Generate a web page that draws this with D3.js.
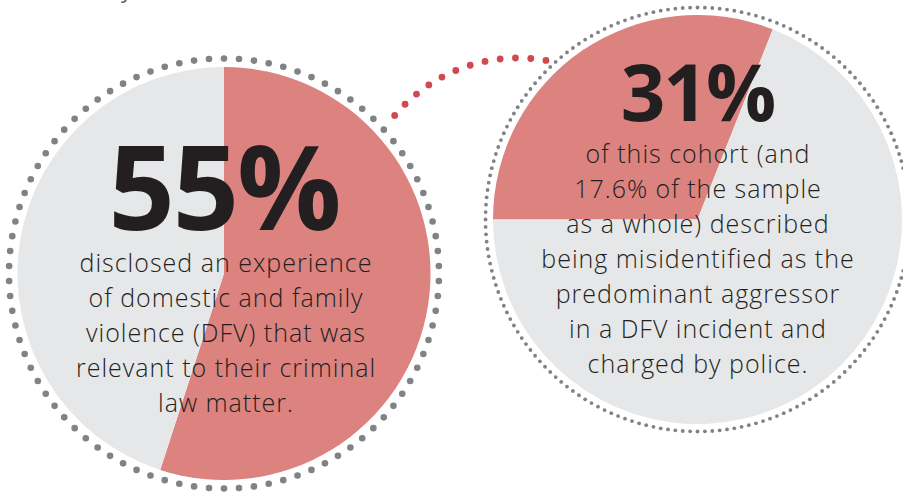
<!DOCTYPE html>
<html>
<head>
<meta charset="utf-8">
<script src="https://cdn.jsdelivr.net/npm/d3@7"></script>
<style>
  body { margin: 0; background: #fff; }
  svg { display: block; }
  text { font-family: "Open Sans", "Noto Sans", sans-serif; fill: #231f20; }
</style>
</head>
<body>
<svg id="chart" width="903" height="494"></svg>
<script>
// values
const shares = [55, 31];
const headlines = ["55%", "31%"];
const captions = [
    ["disclosed an experience", "of domestic and family", "violence (DFV) that was",
     "relevant to their criminal", "law matter."],
    ["of this cohort (and", "17.6% of the sample", "as a whole) described",
     "being misidentified as the", "predominant aggressor", "in a DFV incident and",
     "charged by police."]
];

// layout for the two bubbles
const bubbles = [
    {cx: 224, cy: 273.5, r: 206.5, ring: 215, dot: 3.3, step: 15, start: 0,
     headSize: 116, headY: 230, capY: 272, capX: 226},
    {cx: 697.5, cy: 219.5, r: 204.5, ring: 212, dot: 1.9, step: 7.4, start: -Math.PI / 2,
     headSize: 78, headY: 121, capY: 163, capX: 698}
];

const RED = "#dc827f", GREY = "#e6e7e8", DOTS = "#808285", LINK = "#d14850";

const svg = d3.select("#chart");

// fragment of text cut off at the top
svg.append("text").attr("x", 121).attr("y", -2)
   .style("font-size", "22px").style("fill", "#58595b").text("y");

bubbles.forEach(function(b, i){
    let g = svg.append("g").attr("transform", `translate(${b.cx},${b.cy})`);

    let pie = d3.pie().sort(null)
                .startAngle(b.start).endAngle(b.start + 2 * Math.PI);
    let arc = d3.arc().innerRadius(0).outerRadius(b.r);

    g.selectAll("path")
     .data(pie([shares[i], 100 - shares[i]]))
     .enter()
     .append("path")
     .attr("d", arc)
     .attr("fill", function(d, j){ return j === 0 ? RED : GREY; });

    // dotted ring
    let n = Math.round(2 * Math.PI * b.ring / b.step);
    g.selectAll("circle.ring")
     .data(d3.range(n))
     .enter()
     .append("circle")
     .attr("class", "ring")
     .attr("cx", function(k){ return b.ring * Math.sin(k / n * 2 * Math.PI); })
     .attr("cy", function(k){ return -b.ring * Math.cos(k / n * 2 * Math.PI); })
     .attr("r", b.dot)
     .attr("fill", DOTS);

    svg.append("text")
       .attr("x", b.cx).attr("y", b.headY)
       .attr("text-anchor", "middle")
       .style("font-size", b.headSize + "px")
       .style("font-weight", 700)
       .style("letter-spacing", "-2px")
       .text(headlines[i]);

    svg.append("g").selectAll("text")
       .data(captions[i])
       .enter()
       .append("text")
       .attr("x", b.capX)
       .attr("y", function(d, k){ return b.capY + k * 35; })
       .attr("text-anchor", "middle")
       .style("font-size", "25px")
       .style("font-weight", 350)
       .style("letter-spacing", "1px")
       .text(function(d){ return d; });
});

// red dotted link between the bubbles
const link = {cx: 518, cy: 219, r: 161, from: -50, to: 10, count: 12};
let ang = d3.scaleLinear().domain([0, link.count - 1])
            .range([link.from, link.to].map(function(a){ return a * Math.PI / 180; }));
svg.append("g").selectAll("circle")
   .data(d3.range(link.count))
   .enter()
   .append("circle")
   .attr("cx", function(k){ return link.cx + link.r * Math.sin(ang(k)); })
   .attr("cy", function(k){ return link.cy - link.r * Math.cos(ang(k)); })
   .attr("r", 3.4)
   .attr("fill", LINK);
</script>
</body>
</html>
